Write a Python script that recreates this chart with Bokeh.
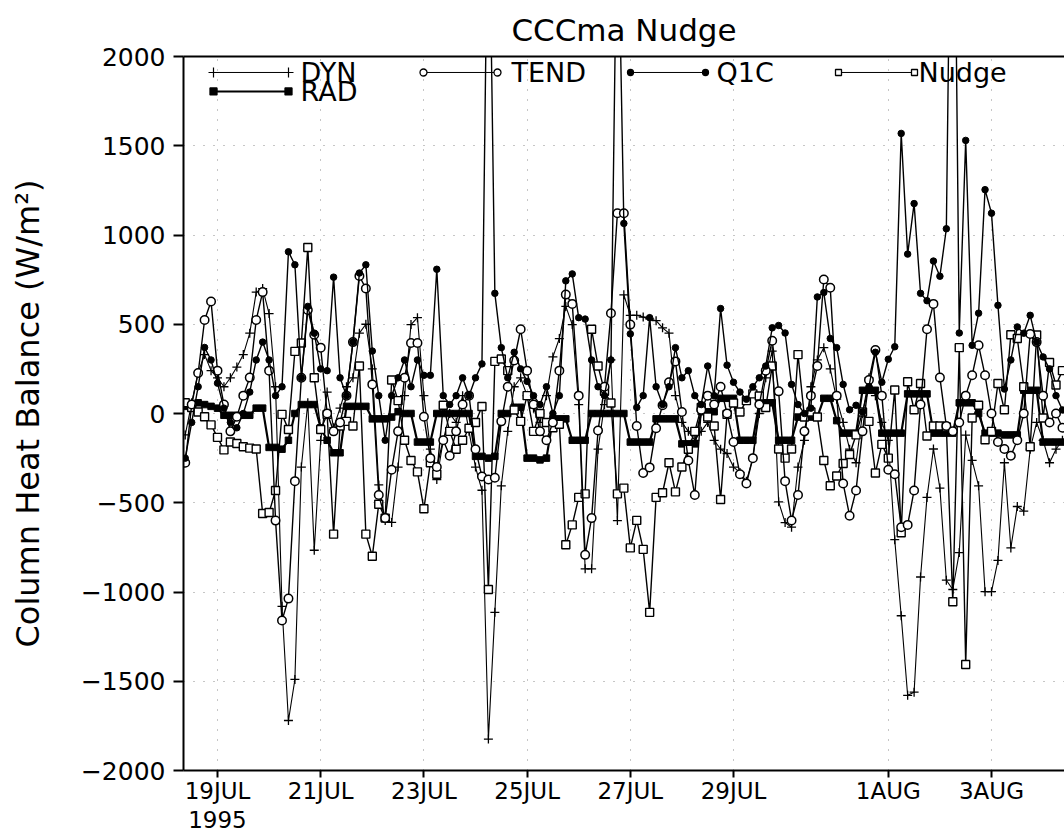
import numpy as np
from bokeh.plotting import figure
from bokeh.models import FixedTicker, LinearAxis, Range1d
from bokeh.core.properties import value
from bokeh.embed import file_html
from bokeh.resources import INLINE

# ---------------- data (3-hourly, days relative to 19 JUL 1995 00Z) ----------------
t_start = -0.625
t_step = 0.125

dyn = [-120, 60, 230, 330, 240, 200, 150, 200, 260, 330,
       450, 680, 700, 560, 150, -1080, -1720, -1490, -300, 60,
       -766, -150, 120, -80, 30, 150, 200, 450, 500, 250,
       -400, -600, -610, -300, 100, 498, 537, 100, -200, -370,
       -150, 0, -50, 100, -100, -300, -430, -1824, -1114, -405,
       -100, 150, 200, 100, 30, -50, 100, 317, 420, 600,
       498, 50, -870, -870, -200, 50, 300, -600, 665, 550,
       550, 540, 530, 520, 480, 450, 100, -50, -100, -150,
       -100, -50, -150, -200, -224, -300, -330, -380, -250, 0,
       200, 350, -495, -611, -637, -300, -150, 150, 300, 369,
       250, 80, -50, -200, -276, 0, 200, 100, -50, -150,
       -707, -1133, -1579, -1561, -916, -470, -199, -418, -934, -986,
       -779, -121, -263, -405, -998, -998, -823, -276, -753, -521,
       -547, -200, -50, -150, -276, -200, -150]

q1c = [-250, -50, 150, 370, 300, 170, 30, -50, -80, 0,
       120, 300, 400, 300, 100, 150, 906, 833, 200, 600,
       450, 250, 240, 764, 200, 100, 400, 787, 833, 350,
       100, -150, 100, 200, 300, 150, 300, 214, 214, 808,
       100, 50, 100, 200, 100, 200, 278, 3200, 673, 369,
       200, 343, 250, 180, 100, 50, 150, 0, 100, 743,
       782, 537, 529, 300, 150, 100, 300, 3000, 1065, 446,
       34, 100, 537, 150, 50, 150, 369, 200, 240, 100,
       50, 266, 100, 588, 271, 175, 120, 80, 150, 200,
       266, 480, 493, 451, 163, 50, 0, 30, 653, 678,
       420, 369, 163, 21, 46, 8, 150, 343, 175, 304,
       374, 1569, 893, 1176, 673, 632, 854, 769, 1035, 4000,
       451, 1530, 382, 562, 1254, 1122, 606, 137, 300, 485,
       450, 550, 400, 317, 250, 100, 20]

tend = [-276, 50, 227, 524, 627, 240, 50, -100, -18, 100,
        201, 524, 680, 240, -600, -1160, -1037, -379, 200, 580,
        441, 369, 0, -100, -50, 100, 400, 770, 700, 163,
        -457, -586, -315, -100, 200, 395, 395, -18, -250, -300,
        -150, -237, -100, 50, 100, -200, -353, -370, -360, -44,
        150, 297, 472, 240, 50, -100, -150, -50, 240, 666,
        614, 100, -792, -586, -95, 150, 562, 1122, 1122, 498,
        -70, -333, -302, -83, 46, 175, 292, 8, -263, -457,
        21, 100, 50, 150, 0, -160, -340, -392, -250, 50,
        240, 408, 124, -379, -599, -457, -100, 100, 266, 751,
        704, 100, -392, -573, -431, -100, 188, 356, 100, -315,
        -340, -637, -624, -431, 50, 472, 614, 201, -70, -100,
        -50, 100, 214, 382, 214, 0, -160, -199, -237, -150,
        0, 446, 400, 100, -50, 0, -80]

nudge = [60, 34, 8, -18, -64, -134, -204, -160, -168, -186,
         -194, -199, -560, -555, -431, -5, -90, 348, 395, 930,
         200, -90, -5, -676, -70, -44, -70, 266, -676, -800,
         -508, -586, 188, 72, -150, -263, -327, -534, -276, -340,
         46, -100, -200, -150, -83, -50, 39, -986, 292, 305,
         240, 20, -44, 100, -100, 0, -50, -80, -60, -735,
         -624, -470, -450, 472, 266, 124, 59, -450, -418, -753,
         -599, -761, -1114, -470, -444, -276, -439, -300, -200, -100,
         34, -20, -70, -482, -5, 59, 8, 72, 110, 98,
         34, 266, -199, -250, -199, 330, -20, 8, -20, -263,
         -405, -350, -280, -230, -120, 8, -44, -333, -173, -250,
         132, -668, 178, 21, 168, -126, -70, -70, -76, -1055,
         369, -1406, -25, 46, -147, -100, 168, 21, 441, 420,
         150, -186, 440, -25, 286, 160, 240]

rad = [40, 50, 60, 50, 40, 30, -10, -10, -10, -10,
       -10, 30, 30, -190, -190, -200, -150, 0, 50, 50,
       50, -80, -150, -220, -220, 40, 40, 40, 40, -30,
       -30, -30, -20, 10, 0, 0, -160, -160, -160, 0,
       0, 0, 0, 0, 0, -240, -240, -250, -240, 0,
       0, 35, 35, -250, -250, -260, -250, -30, -30, -30,
       -150, -150, -150, 0, 0, 0, 0, 0, 0, -160,
       -160, -160, -160, -30, -30, -30, -30, -170, -170, -170,
       10, 10, 10, 85, 85, 85, -150, -150, -150, 60,
       60, 60, -150, -150, -150, -20, -20, -20, -20, 85,
       85, -40, -110, -110, -110, 130, 130, 130, -110, -110,
       -110, -110, 110, 110, 110, 110, -110, -110, -110, -110,
       60, 60, 60, 0, -110, -110, -110, -120, -120, -120,
       130, 130, 130, -160, -160, -160, -160]

x_tick_days = [0, 2, 4, 6, 8, 10, 13, 15]
x_tick_labels = ["19JUL\n1995", "21JUL", "23JUL", "25JUL", "27JUL", "29JUL", "1AUG", "3AUG"]
y_ticks = [-2000, -1500, -1000, -500, 0, 500, 1000, 1500, 2000]

legend_names = ["DYN", "TEND", "Q1C", "Nudge", "RAD"]

n = min(len(dyn), len(q1c), len(tend), len(nudge), len(rad))
t = [t_start + t_step * k for k in range(n)]

# ---------------- layout (Bokeh's page template has no body margin) ----------------
FONT = "DejaVu Sans"
FIG_W, FIG_H = 1064, 839
FRAME_L, FRAME_R, FRAME_T, FRAME_B = 183, 1064, 55, 770   # page pixels
DAY0_PX, PX_PER_DAY = 217.0, 51.6
X0 = (FRAME_L - DAY0_PX) / PX_PER_DAY
X1 = (FRAME_R - DAY0_PX) / PX_PER_DAY
Y0, Y1 = -2000, 2000


def px2x(px):
    return X0 + (px - FRAME_L) * (X1 - X0) / (FRAME_R - FRAME_L)


def py2y(py):
    return Y1 - (py - FRAME_T) * (Y1 - Y0) / (FRAME_B - FRAME_T)


p = figure(width=FIG_W, height=FIG_H,
           x_range=Range1d(X0, X1), y_range=Range1d(Y0, Y1),
           output_backend="svg", toolbar_location=None,
           min_border_left=FRAME_L, min_border_right=FIG_W - FRAME_R,
           min_border_top=FRAME_T,
           min_border_bottom=FIG_H - FRAME_B)
p.outline_line_color = None
p.background_fill_color = "white"
p.border_fill_color = "white"

p.title.text = "CCCma Nudge"
p.title.align = "center"
p.title.text_font = FONT
p.title.text_font_size = "31px"
p.title.text_font_style = "normal"
p.title.text_color = "black"
p.title.standoff = 18

# axes
for ax in (p.xaxis[0], p.yaxis[0]):
    ax.axis_line_width = 2
    ax.axis_line_color = "black"
    ax.major_tick_line_width = 2
    ax.major_tick_line_color = "black"
    ax.major_tick_in = 0
    ax.minor_tick_line_color = None
    ax.major_label_text_font = FONT
    ax.major_label_text_color = "black"

p.xaxis.ticker = FixedTicker(ticks=x_tick_days)
p.xaxis.major_label_overrides = {d: lab for d, lab in zip(x_tick_days, x_tick_labels)}
p.xaxis.major_tick_out = 7
p.xaxis.major_label_text_font_size = "23px"
p.xaxis.major_label_text_line_height = 1.15
p.xaxis.major_label_standoff = 0

p.yaxis.ticker = FixedTicker(ticks=y_ticks)
p.yaxis.major_tick_out = 10
p.yaxis.major_label_text_font_size = "25px"
p.yaxis.major_label_standoff = 8
p.yaxis.axis_label = "Column Heat Balance (W/m²)"
p.yaxis.axis_label_text_font = FONT
p.yaxis.axis_label_text_font_size = "32px"
p.yaxis.axis_label_text_font_style = "normal"
p.yaxis.axis_label_text_color = "black"
p.yaxis.axis_label_standoff = 31

top_axis = LinearAxis(ticker=FixedTicker(ticks=[]), axis_line_width=2, axis_line_color="black",
                      major_tick_line_color=None, minor_tick_line_color=None,
                      major_label_text_font_size="0px")
p.add_layout(top_axis, "above")

p.xgrid.ticker = FixedTicker(ticks=x_tick_days)
p.ygrid.ticker = FixedTicker(ticks=y_ticks)
for g in (p.xgrid[0], p.ygrid[0]):
    g.grid_line_color = "#8c8c8c"
    g.grid_line_dash = "1 9"
    g.grid_line_width = 1

# ---------------- series ----------------
tt = t[:n]
p.line(tt, rad[:n], line_color="black", line_width=2.2)
p.scatter(tt, rad[:n], marker="square", size=6.5, fill_color="black", line_color="black")

p.line(tt, dyn[:n], line_color="black", line_width=1.1)
p.scatter(tt, dyn[:n], marker="cross", size=9, line_color="black", line_width=1.3)

p.line(tt, nudge[:n], line_color="black", line_width=1.4)
p.scatter(tt, nudge[:n], marker="square", size=8, fill_color="white", line_color="black", line_width=1.4)

p.line(tt, tend[:n], line_color="black", line_width=1.4)
p.scatter(tt, tend[:n], marker="circle", size=8.5, fill_color="white", line_color="black", line_width=1.5)

p.line(tt, q1c[:n], line_color="black", line_width=1.4)
p.scatter(tt, q1c[:n], marker="circle", size=6.5, fill_color="black", line_color="black")

# ---------------- Ferret-style legend ----------------
legend_items = [
    # name, x0 px, x1 px, y px, text px, marker, size, fill, line width
    (legend_names[0], 213, 288, 71, 300, "cross", 10, None, 1.0),
    (legend_names[1], 423, 497, 71, 511, "circle", 7, "white", 1.0),
    (legend_names[2], 630, 705, 71, 716, "circle", 6, "black", 1.0),
    (legend_names[3], 838, 914, 71, 918, "square", 6, "white", 1.0),
    (legend_names[4], 213, 288, 90, 300, "square", 7, "black", 2.0),
]
for name, a, b, yy, tx, mk, sz, fill, lw in legend_items:
    xs = [px2x(a), px2x(b)]
    ys = [py2y(yy), py2y(yy)]
    p.line(xs, ys, line_color="black", line_width=lw)
    if fill is None:
        p.scatter(xs, ys, marker=mk, size=sz, line_color="black", line_width=1.2)
    else:
        p.scatter(xs, ys, marker=mk, size=sz, fill_color=fill, line_color="black", line_width=1.3)
    p.text([px2x(tx)], [py2y(yy)], text=[name], text_font=value(FONT), text_font_size="27px",
           text_align="left", text_baseline="middle", text_color="black")

open("out.html", "w").write(file_html(p, INLINE))
